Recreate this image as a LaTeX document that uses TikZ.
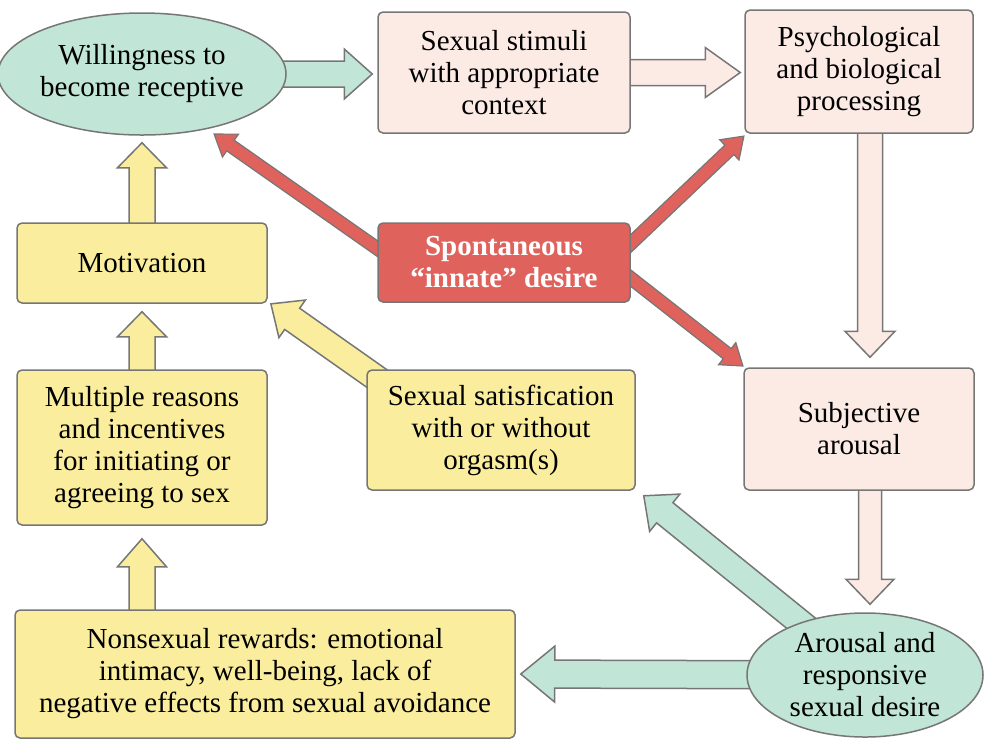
\documentclass[tikz,border=0pt]{standalone}
\usepackage{fontspec}
\setmainfont{Liberation Serif}
\usetikzlibrary{calc}
\usetikzlibrary{shapes.geometric}
\usetikzlibrary{backgrounds}
\definecolor{mint}{RGB}{193,229,215}
\definecolor{blush}{RGB}{252,235,229}
\definecolor{butter}{RGB}{250,238,158}
\definecolor{brick}{RGB}{224,98,92}
\definecolor{rim}{RGB}{118,118,118}
\newcommand*{\px}{0.5pt}
\newcommand*{\labelfont}{\fontsize{14.5}{16}\selectfont}
% #1 style, #2 from, #3 to, #4 half shaft, #5 half head, #6 head length
\newcommand*{\fatarrow}[6]{%
    \draw [#1] let \p1 = (#2), \p2 = (#3),
        \n1 = {atan2(\y2-\y1,\x2-\x1)}, \n2 = {veclen(\x2-\x1,\y2-\y1)} in
        [shift={(\p1)}, rotate=\n1]
        (0pt,-#4*\px) -- (\n2-#6*\px,-#4*\px) -- (\n2-#6*\px,-#5*\px) -- (\n2,0pt)
        -- (\n2-#6*\px,#5*\px) -- (\n2-#6*\px,#4*\px) -- (0pt,#4*\px) -- cycle;}
\tikzset{
    box/.style     = {draw=rim, line width=0.75pt, rounded corners=2.5pt, align=center, inner sep=0pt},
    pinkbox/.style = {box, fill=blush},
    yellowbox/.style = {box, fill=butter},
    redbox/.style  = {box, fill=brick, text=white, font=\labelfont\bfseries},
    oval/.style    = {ellipse, draw=rim, line width=0.75pt, fill=mint, align=center, inner sep=0pt},
    mintarrow/.style   = {draw=rim, line width=0.75pt, fill=mint},
    pinkarrow/.style   = {draw=rim, line width=0.75pt, fill=blush},
    yellowarrow/.style = {draw=rim, line width=0.75pt, fill=butter},
    redarrow/.style    = {draw=rim, line width=0.6pt, fill=brick},
}

\begin{document}
\begin{tikzpicture}[x=\px, y=-\px, font=\labelfont]
    \useasboundingbox (0,0) rectangle (985,741);
    \node [oval, minimum width=254*\px, minimum height=122*\px] (will)  at (142,74)    {Willingness to\\become receptive};
    \node [pinkbox, minimum width=252*\px, minimum height=121*\px] (stim) at (504,72.5) {Sexual stimuli\\with appropriate\\context};
    \node [pinkbox, minimum width=228*\px, minimum height=123*\px] (psych) at (859,71.5) {Psychological\\and biological\\processing};
    \node [redbox, minimum width=252*\px, minimum height=79*\px]  (spont) at (504,262.5) {Spontaneous\\``innate'' desire};
    \node [yellowbox, minimum width=250*\px, minimum height=80*\px]  (motiv) at (142,263) {Motivation};
    \node [yellowbox, minimum width=250*\px, minimum height=155*\px] (multi) at (142,447.5) {Multiple reasons\\and incentives\\for initiating or\\agreeing to sex};
    \node [yellowbox, minimum width=268*\px, minimum height=120*\px] (satis) at (501,430) {Sexual satisfication\\with or without\\orgasm(s)};
    \node [pinkbox, minimum width=230*\px, minimum height=122*\px] (subj)  at (859,429) {Subjective\\arousal};
    \node [yellowbox, minimum width=500*\px, minimum height=128*\px] (nons) at (265,674) {Nonsexual rewards: emotional\\intimacy, well-being, lack of\\negative effects from sexual avoidance};
    \node [oval, minimum width=236*\px, minimum height=124*\px] (arous) at (865,675) {Arousal and\\responsive\\sexual desire};

    \begin{scope}[on background layer]
        \fatarrow{mintarrow}{will.center}{$(will.center -| stim.west)+(-5,0)$}{13}{25}{28}
        \fatarrow{pinkarrow}{stim.center}{$(stim.center -| psych.west)+(-4,0)$}{13}{25}{35}
        \fatarrow{pinkarrow}{$(psych.center)+(11,0)$}{$(subj.north)+(11,-10)$}{12.5}{25}{26}
        \fatarrow{pinkarrow}{$(subj.center)+(11,0)$}{$(arous.north -| subj.center)+(11,-8)$}{11.5}{24}{25}
        \fatarrow{mintarrow}{arous.center}{$(nons.east)+(5,0)$}{14}{28}{34}
        \fatarrow{mintarrow}{arous.center}{$(satis.south east)+(8,5)$}{13}{24}{27}
        \fatarrow{yellowarrow}{$(satis.north west)+(50,37)$}{$(motiv.south east)+(3,0)$}{13}{23}{26}
        \fatarrow{yellowarrow}{motiv.center}{$(will.south)+(0,7)$}{13}{24.5}{25}
        \fatarrow{yellowarrow}{multi.center}{$(motiv.south)+(0,8)$}{13}{24.5}{25}
        \fatarrow{yellowarrow}{$(nons.north -| multi.center)+(0,20)$}{$(multi.south)+(0,13)$}{13}{24.5}{28}
        \fatarrow{redarrow}{$(spont.west)+(20,0)$}{$(will.center)+(72,60)$}{6.5}{14}{20}
        \fatarrow{redarrow}{$(spont.east)+(-20,0)$}{$(psych.south west)+(0,2)$}{6.5}{14}{20}
        \fatarrow{redarrow}{$(spont.east)+(-20,0)$}{$(subj.north west)+(0,-1)$}{6.5}{14}{20}
    \end{scope}
\end{tikzpicture}
\end{document}
